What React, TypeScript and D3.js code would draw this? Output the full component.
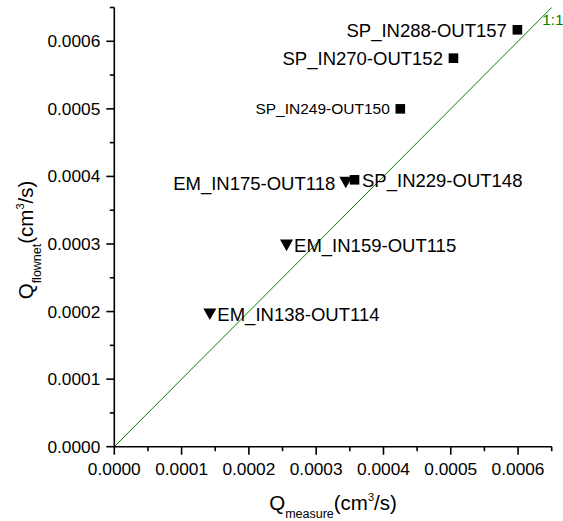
import React from "react";
import * as d3 from "d3";

const spNames = ["SP_IN288-OUT157", "SP_IN270-OUT152", "SP_IN249-OUT150", "SP_IN229-OUT148"];
const spMeasure = [0.000599, 0.000504, 0.000425, 0.000357];
const spFlownet = [0.000617, 0.000575, 0.0005, 0.000395];
const spLabelSide = ["left", "left", "left", "right"];
const spLabelSmall = [false, false, true, false];

const emNames = ["EM_IN175-OUT118", "EM_IN159-OUT115", "EM_IN138-OUT114"];
const emMeasure = [0.000344, 0.000256, 0.000142];
const emFlownet = [0.000391, 0.000298, 0.000196];
const emLabelSide = ["left", "right", "right"];

const majorTicks = [0, 0.0001, 0.0002, 0.0003, 0.0004, 0.0005, 0.0006];
const minorTicks = [0.00005, 0.00015, 0.00025, 0.00035, 0.00045, 0.00055, 0.00065];
const tickLabels = ["0.0000", "0.0001", "0.0002", "0.0003", "0.0004", "0.0005", "0.0006"];
const axisMax = 0.00065;
const oneToOne = [0, 0.00065];

const W = 563;
const H = 521;
const M = { left: 114.3, right: 11.3, top: 7.5, bottom: 74.3 };
const FONT = "'Liberation Sans', Arial, sans-serif";

export default function App() {
  const x = d3.scaleLinear().domain([0, axisMax]).range([M.left, W - M.right]);
  const y = d3.scaleLinear().domain([0, axisMax]).range([H - M.bottom, M.top]);
  const x0 = x(0);
  const y0 = y(0);
  const line = d3.line<number>().x((d) => x(d)).y((d) => y(d));

  const spPts = spNames.map((n, i) => ({ n, cx: x(spMeasure[i]), cy: y(spFlownet[i]), side: spLabelSide[i], small: spLabelSmall[i] }));
  const emPts = emNames.map((n, i) => ({ n, cx: x(emMeasure[i]), cy: y(emFlownet[i]), side: emLabelSide[i], small: false }));

  const label = (p: any, key: string) => {
    const fs = p.small ? 15.5 : 18.5;
    const left = p.side === "left";
    return (
      <text
        key={key}
        x={left ? p.cx - 10.5 : p.cx + 7.5}
        y={p.cy + (p.small ? 5.5 : 7)}
        textAnchor={left ? "end" : "start"}
        fontSize={fs}
        fontFamily={FONT}
        fill="#000"
      >
        {p.n}
      </text>
    );
  };

  return (
    <svg width={W} height={H} style={{ position: "absolute", left: 0, top: 0, background: "#fff" }}>
      <rect width={W} height={H} fill="#fff" />
      {/* 1:1 line */}
      <path d={line(oneToOne) || ""} stroke="#008000" strokeWidth={1} fill="none" />
      <text x={x(axisMax) - 9.5} y={y(axisMax) + 17} fontSize={15.5} fontFamily={FONT} fill="#008000">
        1:1
      </text>

      {/* axes */}
      <line x1={x0} x2={x0} y1={y0} y2={y(axisMax)} stroke="#000" strokeWidth={1.6} />
      <line x1={x0} x2={x(axisMax)} y1={y0} y2={y0} stroke="#000" strokeWidth={1.6} />
      {majorTicks.map((t, i) => (
        <g key={"mj" + i}>
          <line x1={x0} x2={x0 - 8} y1={y(t)} y2={y(t)} stroke="#000" strokeWidth={1.6} />
          <line x1={x(t)} x2={x(t)} y1={y0} y2={y0 + 8} stroke="#000" strokeWidth={1.6} />
          <text x={x0 - 14} y={y(t) + 6} textAnchor="end" fontSize={17.3} fontFamily={FONT}>
            {tickLabels[i]}
          </text>
          <text x={x(t)} y={y0 + 28.5} textAnchor="middle" fontSize={17.3} fontFamily={FONT}>
            {tickLabels[i]}
          </text>
        </g>
      ))}
      {minorTicks.map((t, i) => (
        <g key={"mn" + i}>
          <line x1={x0} x2={x0 - 4.5} y1={y(t)} y2={y(t)} stroke="#000" strokeWidth={1.6} />
          <line x1={x(t)} x2={x(t)} y1={y0} y2={y0 + 4.5} stroke="#000" strokeWidth={1.6} />
        </g>
      ))}

      {/* axis titles */}
      <text x={(x0 + x(axisMax)) / 2} y={509.5} textAnchor="middle" fontSize={20.5} fontFamily={FONT}>
        Q<tspan fontSize={12.5} dy={8}>measure</tspan>
        <tspan fontSize={20.5} dy={-8}>(cm</tspan>
        <tspan fontSize={11} dy={-9}>3</tspan>
        <tspan fontSize={20.5} dy={9}>/s)</tspan>
      </text>
      <text
        transform={`translate(32.5, 240) rotate(-90)`}
        textAnchor="middle"
        fontSize={20.5}
        fontFamily={FONT}
      >
        Q<tspan fontSize={12.5} dy={8}>flownet</tspan>
        <tspan fontSize={20.5} dy={-8}>(cm</tspan>
        <tspan fontSize={11} dy={-9}>3</tspan>
        <tspan fontSize={20.5} dy={9}>/s)</tspan>
      </text>

      {/* markers */}
      {emPts.map((p, i) => (
        <path
          key={"em" + i}
          d={`M${p.cx - 6.5},${p.cy - 5.8}L${p.cx + 6.5},${p.cy - 5.8}L${p.cx},${p.cy + 5.8}Z`}
          fill="#000"
        />
      ))}
      {spPts.map((p, i) => (
        <rect key={"sp" + i} x={p.cx - 4.8} y={p.cy - 4.8} width={9.6} height={9.6} fill="#000" />
      ))}
      {spPts.map((p, i) => label(p, "spl" + i))}
      {emPts.map((p, i) => label(p, "eml" + i))}
    </svg>
  );
}
